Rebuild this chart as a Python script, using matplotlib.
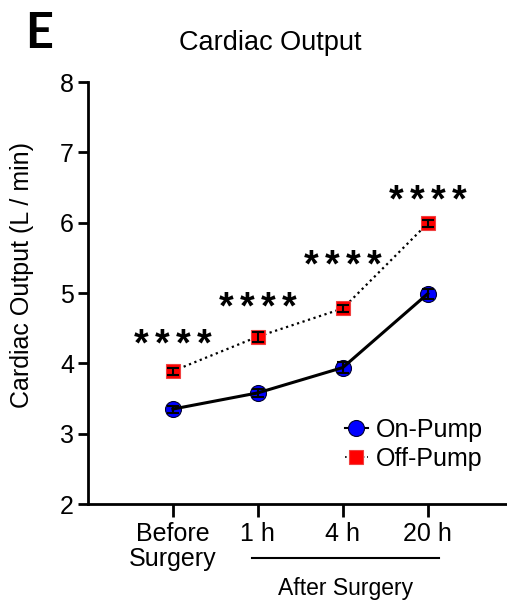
import matplotlib
matplotlib.use("Agg")
import matplotlib.pyplot as plt
from matplotlib.lines import Line2D
import matplotlib.transforms as mtransforms

plt.rcParams['font.family'] = ['Liberation Sans', 'DejaVu Sans']

# ---- data ----
categories = ['Before\nSurgery', '1 h', '4 h', '20 h']
on_pump = [3.35, 3.58, 3.94, 4.99]
on_pump_err = [0.05, 0.06, 0.08, 0.07]
off_pump = [3.89, 4.38, 4.78, 5.99]
off_pump_err = [0.05, 0.07, 0.05, 0.05]
sig_labels = ['****', '****', '****', '****']
sig_y = [4.33, 4.85, 5.45, 6.38]
yticks = [2, 3, 4, 5, 6, 7, 8]
title = 'Cardiac Output'
ylabel = 'Cardiac Output (L / min)'
group_label = 'After Surgery'

W, H = 507, 601
fig = plt.figure(figsize=(W / 100, H / 100), dpi=100)
ax = fig.add_axes([88 / W, 1 - 504 / H, 1 - 88 / W, (504 - 82) / H])

x = list(range(1, len(categories) + 1))

# Off-pump: dotted line below markers
ax.plot(x, off_pump, linestyle=(0, (1, 1.6)), color='black', lw=1.6, zorder=2)
ax.plot(x, off_pump, linestyle='none', marker='s', ms=10.5, mfc='#FF0000',
        mec='#F04040', mew=0.8, zorder=3)
ax.errorbar(x, off_pump, yerr=off_pump_err, fmt='none', ecolor='black',
            elinewidth=1.5, capsize=4.5, capthick=1.5, zorder=4)

# On-pump: solid line over markers
ax.plot(x, on_pump, linestyle='none', marker='o', ms=11.5, mfc='#0000FF',
        mec='#000030', mew=0.8, zorder=3)
ax.plot(x, on_pump, linestyle='-', color='black', lw=2.2, zorder=4)
ax.errorbar(x, on_pump, yerr=on_pump_err, fmt='none', ecolor='black',
            elinewidth=1.5, capsize=4.5, capthick=1.5, zorder=5)

# significance stars (each glyph placed with a fixed pitch)
pitch_pt = 21 * 0.72
for xi, yi, s in zip(x, sig_y, sig_labels):
    n = len(s)
    for k, ch in enumerate(s):
        dx = (k - (n - 1) / 2) * pitch_pt
        ax.annotate(ch, xy=(xi, yi), xytext=(dx, -11), textcoords='offset points',
                    ha='center', va='baseline', fontsize=27, fontweight='bold',
                    color='black', zorder=6)

ax.set_xlim(0, (W - 87.7) / 85)
ax.set_ylim(2, 8)
ax.set_yticks(yticks)
ax.set_yticklabels([str(t) for t in yticks])
ax.set_xticks(x)
ax.set_xticklabels(categories, linespacing=1.05)

for sp in ['top', 'right']:
    ax.spines[sp].set_visible(False)
for sp in ['left', 'bottom']:
    ax.spines[sp].set_linewidth(2.0)

ax.tick_params(axis='y', length=7, width=2.0, labelsize=18, pad=3)
ax.tick_params(axis='x', length=9, width=2.0, labelsize=18, pad=4)

ax.set_ylabel(ylabel, fontsize=18)
ax.yaxis.set_label_coords(-0.129, 0.543)

# "After Surgery" bracket
trans = mtransforms.blended_transform_factory(ax.transData, ax.transAxes)
ax.plot([1.93, 4.13], [-0.128, -0.128], color='black', lw=1.5,
        transform=trans, clip_on=False)
ax.text(3.03, -0.216, group_label, transform=trans, ha='center',
        va='baseline', fontsize=16.5)

# title and panel letter
fig.text(270 / W, 1 - 50 / H, title, ha='center', va='baseline', fontsize=19.5)
fig.text(25 / W, 1 - 48 / H, 'E', ha='left', va='baseline', fontsize=35,
         fontweight='bold', family=['Lato', 'DejaVu Sans'])

# legend
handles = [
    Line2D([0], [0], color='black', lw=1.5, marker='o', ms=11.5,
           mfc='#0000FF', mec='#000030', mew=0.8),
    Line2D([0], [0], color='black', lw=1.2, linestyle=':', marker='s',
           ms=10.5, mfc='#FF0000', mec='#F04040', mew=0.8),
]
ax.legend(handles, ['On-Pump', 'Off-Pump'], loc='upper left',
          bbox_to_anchor=(345 / W, 1 - 418 / H),
          bbox_transform=fig.transFigure, frameon=False, fontsize=18,
          handlelength=0.9, handletextpad=0.35, labelspacing=0.2,
          borderpad=0, borderaxespad=0)

fig.savefig('out.png', dpi=100)
